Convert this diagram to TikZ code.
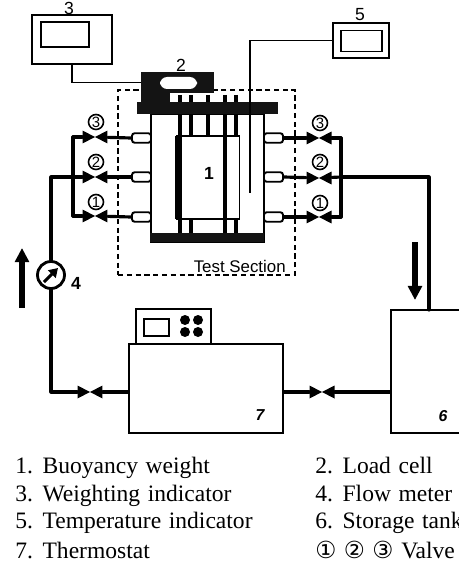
\documentclass[tikz,border=0pt]{standalone}
\usepackage{fontspec}
\setmainfont[WordSpace=1.3]{Liberation Serif}
\setsansfont{Liberation Sans}
\newfontfamily\circfont{DejaVu Sans}
\usetikzlibrary{arrows.meta, positioning}

\begin{document}
\begin{tikzpicture}[
    x=0.02cm, y=-0.02cm,
    panel/.style={rectangle, draw, line width=1.1pt, inner sep=0pt, fill=white},
    port/.style={rectangle, rounded corners=1.5pt, draw, line width=1.1pt, inner sep=0pt,
                 fill=white, minimum width=0.38cm, minimum height=0.19cm},
    valve/.style={rectangle, inner sep=0pt, minimum width=0.5cm, minimum height=0.26cm,
                  path picture={\fill (path picture bounding box.north west)
                      -- (path picture bounding box.south east)
                      -- (path picture bounding box.north east)
                      -- (path picture bounding box.south west) -- cycle;}},
    valvelabel/.style={circle, draw, line width=0.9pt, inner sep=0pt, minimum size=0.3cm,
                       font=\sffamily\fontsize{8.5}{8.5}\selectfont},
    tag/.style={font=\sffamily\fontsize{10}{10}\selectfont, inner sep=0pt},
    tagit/.style={font=\sffamily\bfseries\itshape\fontsize{9}{9}\selectfont, inner sep=0pt},
    legend/.style={anchor=base west, inner sep=0pt, font=\fontsize{13.4}{15}\selectfont},
    pipe/.style={line width=1.8pt, line cap=round},
    wire/.style={line width=0.9pt},
    rod/.style={line width=2.1pt},
    flow/.style={line width=3pt, -{Triangle[width=7.8pt, length=8pt]}}
]
\useasboundingbox (0,0) rectangle (459,564);

% --- Test section ---
\node[rectangle, draw, densely dashed, line width=1.1pt, minimum width=3.54cm, minimum height=3.7cm] (section) at (206.5,182.5) {};
\node[tag, font=\sffamily\fontsize{9.6}{10}\selectfont, anchor=base east] (sectionlabel) at (286,272) {Test Section};

% --- Vessel ---
\node[panel, minimum width=2.26cm, minimum height=2.56cm] (vessel) at (207.5,178) {};
\node[panel, minimum width=1.26cm, minimum height=1.66cm] (weight) at (208,177.5) {};
\fill (175,136) rectangle (182,219);
\node[tag, font=\sffamily\bfseries\fontsize{10}{10}\selectfont] (weightlabel) at (209,173) {1};
\foreach \xx in {180,191,208,225,236} \draw[rod] (\xx,95) -- (\xx,136);
\foreach \xx in {180,191,225,236} \draw[rod] (\xx,219) -- (\xx,233);
\draw[rod] (225,136) -- (225,219);
\node[rectangle, fill=black!92, minimum width=2.28cm, minimum height=0.18cm, inner sep=0pt] (base) at (207,237.5) {};

% --- Load cell ---
\node[rectangle, fill=black!92, minimum width=1.46cm, minimum height=0.42cm, inner sep=0pt] (loadcell) at (177.5,82.5) {};
\fill[black!92] (141,90) rectangle (170,103);
\fill[white, rounded corners=4pt] (160,77) rectangle (197,89);
\node[rectangle, fill=black!92, minimum width=2.82cm, minimum height=0.24cm, inner sep=0pt] (plate) at (207.5,108) {};
\node[tag] (loadlabel) at (181,65) {2};

% --- Indicators ---
\node[panel, minimum width=1.6cm, minimum height=0.98cm] (weighing) at (72,39.5) {};
\node[panel, minimum width=0.96cm, minimum height=0.5cm] (weighscreen) at (65,34.5) {};
\node[tag] (weighlabel) at (69,8) {3};
\node[panel, minimum width=1.12cm, minimum height=0.7cm] (tempbox) at (361,40.5) {};
\node[panel, minimum width=0.82cm, minimum height=0.42cm] (tempscreen) at (361.5,41) {};
\node[tag] (templabel) at (360,15) {5};
\coordinate (probe) at (250,193);
\draw[wire] (weighing.south) |- (loadcell.west);
\draw[wire] (tempbox.west) -| (250,102);
\draw[line width=1.5pt] (250,102) -- (probe);

% --- Ports ---
\foreach \nm/\yy in {a/138,b/177,c/217} {
    \node[port] (left\nm) at (141.5,\yy) {};
    \node[port] (right\nm) at (273.5,\yy) {};
}

% --- Valves ---
\foreach \nm/\yy in {a/137,b/177,c/216} {
    \node[valve] (valveleft\nm) at (95,\yy) {};
    \node[valve] (valveright\nm) at (319,\yy+1) {};
}
\node[valvelabel] (markla) at (96,122) {3};
\node[valvelabel] (marklb) at (96,162) {2};
\node[valvelabel] (marklc) at (96,202) {1};
\node[valvelabel] (markra) at (320,123) {3};
\node[valvelabel] (markrb) at (320,162) {2};
\node[valvelabel] (markrc) at (320,203) {1};

% --- Headers ---
\coordinate (headla) at (73,137);
\coordinate (headlb) at (73,177);
\coordinate (headlc) at (73,216);
\coordinate (headra) at (341,138);
\coordinate (headrb) at (341,177);
\coordinate (headrc) at (341,217);
\draw[pipe, line join=round] (headla) -- (headlc);
\draw[pipe, line join=round] (headra) -- (headrc);
\foreach \nm in {a,b,c} {
    \draw[pipe] (headl\nm) -- (valveleft\nm);
    \draw[pipe] (valveleft\nm) -- (left\nm.west);
    \draw[pipe] (headr\nm) -- (valveright\nm);
    \draw[pipe] (valveright\nm) -- (right\nm.east);
}

% --- Flow meter ---
\node[circle, draw, fill=white, line width=1.6pt, minimum size=0.54cm, inner sep=0pt] (meter) at (51,275) {};
\coordinate (needlea) at (44,282);
\coordinate (needleb) at (58,268);
\draw[line width=1.7pt, -{Triangle[width=6pt, length=5pt]}] (needlea) -- (needleb);
\node[tag, font=\sffamily\bfseries\fontsize{10}{10}\selectfont] (meterlabel) at (76,283) {4};

% --- Thermostat ---
\node[panel, line width=1.3pt, minimum width=3.08cm, minimum height=1.78cm] (thermostat) at (206,388.5) {};
\node[panel, minimum width=1.5cm, minimum height=0.7cm] (control) at (173.5,326.5) {};
\node[panel, line width=0.7pt, minimum width=0.5cm, minimum height=0.34cm] (display) at (156.5,327.5) {};
\foreach \nm/\xx/\yy in {ka/185/320,kb/198/320,kc/185/332,kd/198/332}
    \node[circle, fill, inner sep=0pt, minimum size=0.2cm] (\nm) at (\xx,\yy) {};
\node[tagit] (thermolabel) at (260,415) {7};

% --- Storage tank ---
\node[panel, line width=1.3pt, minimum width=2cm, minimum height=2.46cm] (tank) at (441,371.5) {};
\node[tagit] (tanklabel) at (443,416) {6};

% --- Main loop ---
\node[valve] (valvein) at (90,392) {};
\node[valve] (valveout) at (322,392) {};
\coordinate (tanktop) at (429,310);
\draw[pipe, line join=round] (headlb) -- (51,177) -- (meter.north);
\draw[pipe, line join=round] (meter.south) |- (valvein);
\draw[pipe] (valvein) -- (thermostat.west |- valvein);
\draw[pipe] (thermostat.east |- valveout) -- (valveout);
\draw[pipe] (valveout) -- (tank.west |- valveout);
\draw[pipe, line join=round] (headrb) -| (tanktop);

% --- Flow arrows ---
\coordinate (upa) at (22,308);
\coordinate (upb) at (22,248);
\coordinate (downa) at (415,242);
\coordinate (downb) at (415,300);
\draw[flow] (upa) -- (upb);
\draw[flow] (downa) -- (downb);

% --- Legend ---
\node[legend] (itema) at (15,473) {1. Buoyancy weight};
\node[legend] (itemb) at (15,501) {3. Weighting indicator};
\node[legend] (itemc) at (15,528) {5. Temperature indicator};
\node[legend] (itemd) at (15,558) {7. Thermostat};
\node[legend] (iteme) at (315,473) {2. Load cell};
\node[legend] (itemf) at (315,501) {4. Flow meter};
\node[legend] (itemg) at (315,528) {6. Storage tank};
\node[legend] (itemh) at (315,558) {{\circfont ① ② ③} Valve};

\end{tikzpicture}
\end{document}
